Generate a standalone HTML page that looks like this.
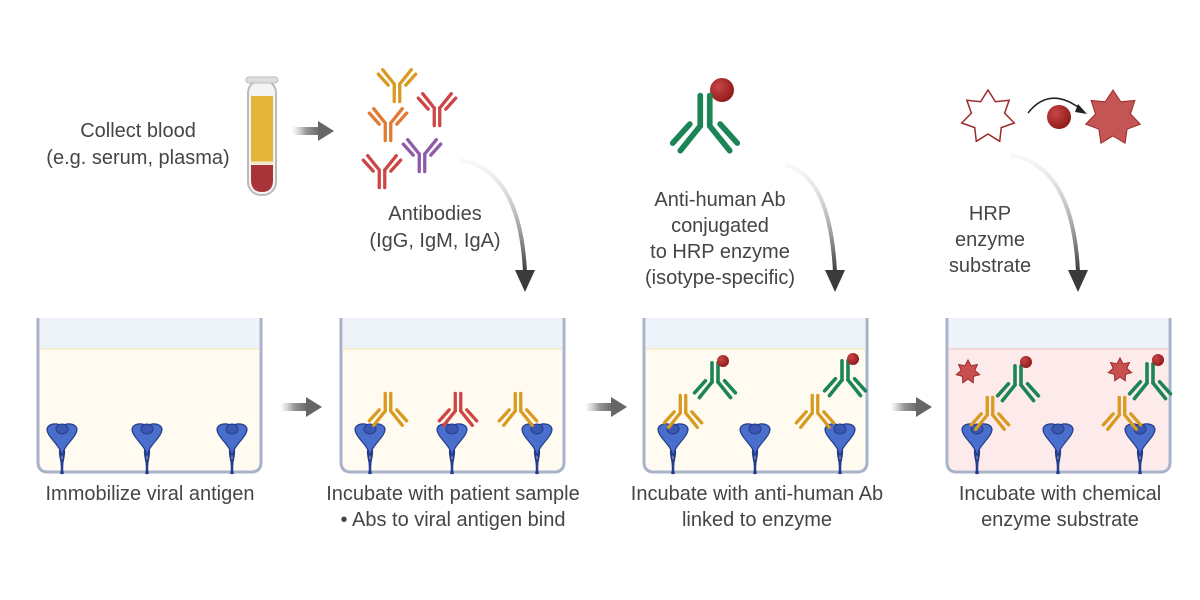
<!DOCTYPE html>
<html><head><meta charset="utf-8"><style>
html,body{margin:0;padding:0;background:#fff}
svg{display:block}
text{font-family:"Liberation Sans",sans-serif;font-size:20px;fill:#454545;text-anchor:middle}
</style></head><body>
<svg id="s" width="1200" height="600" viewBox="0 0 1200 600">
<defs>
<linearGradient id="ga" x1="0" y1="0" x2="1" y2="0"><stop offset="0" stop-color="#bbb" stop-opacity="0"/><stop offset="0.5" stop-color="#999"/><stop offset="1" stop-color="#666"/></linearGradient>
<linearGradient id="gc" x1="0" y1="0" x2="0" y2="1"><stop offset="0" stop-color="#ddd" stop-opacity="0.2"/><stop offset="1" stop-color="#3a3a3a"/></linearGradient>
<radialGradient id="ball" cx="0.35" cy="0.35" r="0.7"><stop offset="0" stop-color="#c94545"/><stop offset="1" stop-color="#8e1a1a"/></radialGradient>
<g id="ab" fill="none" stroke-linecap="round" stroke-width="3">
<line x1="-2.5" y1="-16" x2="-2.5" y2="0"/><line x1="2.5" y1="-16" x2="2.5" y2="0"/>
<line x1="-2.5" y1="0" x2="-13" y2="13"/><line x1="2.5" y1="0" x2="13" y2="13"/>
<line x1="-8" y1="-1" x2="-17" y2="9"/><line x1="8" y1="-1" x2="17" y2="9"/>
</g>
<g id="ag">
<path d="M0,-2 C-6,-6 -14,-4 -15,1 C-15,8 -6,14 -2,22 L0,28 L2,22 C6,14 15,8 15,1 C14,-4 6,-6 0,-2Z" fill="#4a6ecb" stroke="#233d8a" stroke-width="1.2"/>
<ellipse cx="0" cy="1" rx="6" ry="5" fill="#3a58b0" stroke="#233d8a" stroke-width="1"/>
<path d="M-2,22 C-3,30 2,36 -1,46 M2,22 C3,30 -2,36 1,46" fill="#4a6ecb" stroke="#233d8a" stroke-width="2"/>
</g>
</defs>
<g id="content"></g>
<text x="138" y="137">Collect blood</text>
<text x="138" y="164">(e.g. serum, plasma)</text>
<text x="435" y="220">Antibodies</text>
<text x="435" y="247">(IgG, IgM, IgA)</text>
<text x="720" y="206">Anti-human Ab</text>
<text x="720" y="232">conjugated</text>
<text x="720" y="258">to HRP enzyme</text>
<text x="720" y="284">(isotype-specific)</text>
<text x="990" y="220">HRP</text>
<text x="990" y="246">enzyme</text>
<text x="990" y="272">substrate</text>
<text x="150" y="500">Immobilize viral antigen</text>
<text x="453" y="500">Incubate with patient sample</text>
<text x="453" y="526">• Abs to viral antigen bind</text>
<text x="757" y="500">Incubate with anti-human Ab</text>
<text x="757" y="526">linked to enzyme</text>
<text x="1060" y="500">Incubate with chemical</text>
<text x="1060" y="526">enzyme substrate</text>
</svg>
<script>
const NS="http://www.w3.org/2000/svg";
const C=document.getElementById('content');
function mk(tag,attrs,parent){const e=document.createElementNS(NS,tag);for(const k in attrs)e.setAttribute(k,attrs[k]);(parent||C).appendChild(e);return e;}
function star(cx,cy,R,r){let p=[];for(let i=0;i<14;i++){const a=-Math.PI/2+i*Math.PI/7;const rr=i%2?r:R;p.push((cx+rr*Math.cos(a)).toFixed(1)+','+(cy+rr*Math.sin(a)).toFixed(1));}return p.join(' ');}
const wellX=[37,340,643,946];
const liquid=['#fffbf0','#fffbf0','#fffbf0','#fdeaea'];
const lineCol=['#f5e3b0','#f5e3b0','#f5e3b0','#f0b8b8'];
wellX.forEach((x,i)=>{
 const g=mk('g',{});
 
 
 mk('rect',{x:x+3,y:318,width:219,height:31,fill:'#eef3f9'},g);
 mk('path',{d:`M${x+3},349 H${x+222} V462 Q${x+222},470 ${x+214},470 H${x+11} Q${x+3},470 ${x+3},462Z`,fill:liquid[i]},g);
 mk('line',{x1:x+3,y1:349,x2:x+222,y2:349,stroke:lineCol[i],'stroke-width':1},g);
 mk('path',{d:`M${x+1},318 V462 Q${x+1},472 ${x+11},472 H${x+214} Q${x+224},472 ${x+224},462 V318`,fill:'none',stroke:'#a9b2c8','stroke-width':3},g);
});
const agX=[62,147,232,370,452,537,673,755,840,977,1058,1140];
agX.forEach((x,i)=>{const u=mk('use',{href:'#ag',x:x,y:428});

});
const abs=[[388,411,'#d89a20',1.1],[458,411,'#cf4545',1.1],[518,411,'#d89a20',1.1],
[683,413,'#d89a20',1.1],[715,382,'#1b8556',1.2],[815,413,'#d89a20',1.1],[845,380,'#1b8556',1.2],
[990,415,'#d89a20',1.1],[1018,385,'#1b8556',1.2],[1122,415,'#d89a20',1.1],[1150,383,'#1b8556',1.2]];
abs.forEach(a=>{const u=mk('use',{href:'#ab',transform:`translate(${a[0]},${a[1]}) scale(${a[3]})`,stroke:a[2]});

});
const balls=[[723,361,6],[853,359,6],[1026,362,6],[1158,360,6],[722,90,12],[1059,117,12]];
balls.forEach(b=>{const c=mk('circle',{cx:b[0],cy:b[1],r:b[2],fill:'url(#ball)'});

});
const stars=[[968,372,12,7,'#c94f4f'],[1120,370,12,7,'#c94f4f']];
stars.forEach(s=>{const p=mk('polygon',{points:star(s[0],s[1],s[2],s[3]),fill:s[4],stroke:'#9c2a2a','stroke-width':1});

});
const topAbs=[[397,84,'#d89a20'],[437,108,'#cf4545'],[388,123,'#e07a35'],[422,154,'#8f5aa8'],[382,170,'#cf4545']];
topAbs.forEach(a=>{const u=mk('use',{href:'#ab',transform:`translate(${a[0]},${a[1]}) rotate(180) scale(1.1)`,stroke:a[2]});

});
const big=mk('use',{href:'#ab',transform:'translate(705,126) scale(1.9)',stroke:'#1b8556'});


const s1=mk('polygon',{points:star(988,117,27,17),fill:'#fff',stroke:'#9c2a2a','stroke-width':1.5});


const s2=mk('polygon',{points:star(1113,118,28,18),fill:'#c45555',stroke:'#9c2a2a','stroke-width':1});


const ca=mk('path',{d:'M1028,113 Q1050,85 1082,110',fill:'none',stroke:'#222','stroke-width':1.5});


mk('path',{d:'M1078,104 L1087,114 L1075,112Z',fill:'#222'});
const tube=mk('g',{});


mk('rect',{x:248,y:80,width:28,height:115,rx:13,fill:'#f4f4f4',stroke:'#bbb','stroke-width':2},tube);
mk('rect',{x:251,y:96,width:22,height:66,fill:'#e3b53a'},tube);
mk('line',{x1:251,y1:163,x2:273,y2:163,stroke:'#f6e9c8','stroke-width':3},tube);
mk('path',{d:'M251,165 H273 V180 Q273,192 262,192 Q251,192 251,180Z',fill:'#a8343a'},tube);
mk('rect',{x:246,y:77,width:32,height:6,rx:3,fill:'#ddd',stroke:'#bbb'},tube);
const arrows=[[292,131],[280,407],[585,407],[890,407]];
arrows.forEach(a=>{const g=mk('g',{});


mk('rect',{x:a[0],y:a[1]-4,width:28,height:8,fill:'url(#ga)'},g);
mk('path',{d:`M${a[0]+26},${a[1]-10} L${a[0]+42},${a[1]} L${a[0]+26},${a[1]+10}Z`,fill:'#666'},g);});
const curves=[[460,160,525,292],[785,165,835,292],[1010,155,1078,292]];
curves.forEach(c=>{const g=mk('g',{});


const [x1,y1,x2,y2]=c;
mk('path',{d:`M${x1},${y1} Q${x2-5},${y1+10} ${x2},${y2-20}`,fill:'none',stroke:'url(#gc)','stroke-width':4},g);
mk('path',{d:`M${x2-10},${y2-22} L${x2+10},${y2-22} L${x2},${y2}Z`,fill:'#3a3a3a'},g);});
</script>
</body></html>
